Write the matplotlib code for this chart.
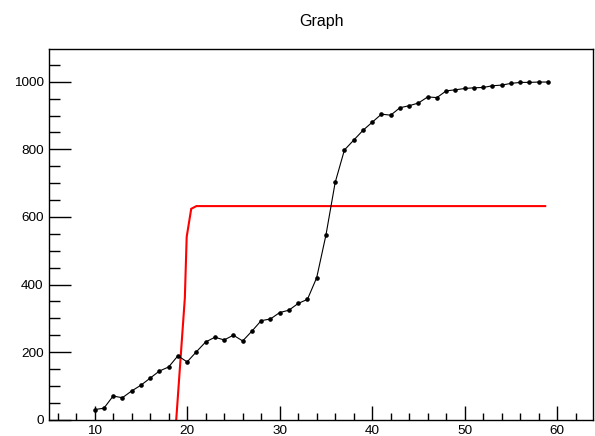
import matplotlib
matplotlib.use("Agg")
import matplotlib.pyplot as plt
from matplotlib.ticker import MultipleLocator

plt.rcParams['font.family'] = ['Liberation Sans', 'DejaVu Sans']

# Measured series (black markers + line)
x_vals = list(range(10, 60))
y_vals = [30, 34, 70, 65, 85, 102, 123, 144, 156, 189,
          171, 201, 230, 244, 236, 250, 233, 262, 293, 298,
          317, 324, 344, 356, 420, 546, 702, 798, 827, 856,
          880, 904, 901, 923, 929, 937, 955, 953, 973, 976,
          980, 982, 983, 988, 990, 995, 998, 998, 999, 999]

# Red curve
red_x = [18.82, 19.75, 19.95, 20.44, 21.0, 58.7]
red_y = [0, 360, 541, 624, 632, 632]

title_text = "Graph"

fig = plt.figure(figsize=(5.95, 4.36), dpi=100)
ax = fig.add_axes([49.3 / 595, (436 - 419.7) / 436, (593.3 - 49.3) / 595, (419.7 - 49.3) / 436])

ax.plot(x_vals, y_vals, color='black', lw=0.8, marker='o', ms=2.3, mec='black', mfc='black', zorder=3)
ax.plot(red_x, red_y, color='#ff0000', lw=1.5, zorder=2, solid_joinstyle='miter')

xmin, xmax = min(x_vals), max(x_vals)
ymin, ymax = min(y_vals), max(y_vals)
ax.set_xlim(xmin - 0.1 * (xmax - xmin), xmax + 0.1 * (xmax - xmin))
ax.set_ylim(0, ymax + 0.1 * (ymax - ymin))

ax.xaxis.set_major_locator(MultipleLocator(10))
ax.xaxis.set_minor_locator(MultipleLocator(2))
ax.yaxis.set_major_locator(MultipleLocator(200))
ax.yaxis.set_minor_locator(MultipleLocator(50))

ax.tick_params(axis='x', which='major', direction='in', length=10, width=1.0, pad=4,
               labelsize=9.7, top=False)
ax.tick_params(axis='x', which='minor', direction='in', length=5, width=1.0, top=False)
ax.tick_params(axis='y', which='major', direction='in', length=16, width=1.0, pad=4,
               labelsize=9.7, right=False)
ax.tick_params(axis='y', which='minor', direction='in', length=8, width=1.0, right=False)

for side in ['left', 'bottom', 'top', 'right']:
    ax.spines[side].set_linewidth(1.0)
    ax.spines[side].set_color('black')

fig.text(322 / 595, 1 - 25.8 / 436, title_text, ha='center', va='baseline', fontsize=11.5)

fig.savefig('out.png', dpi=100)
